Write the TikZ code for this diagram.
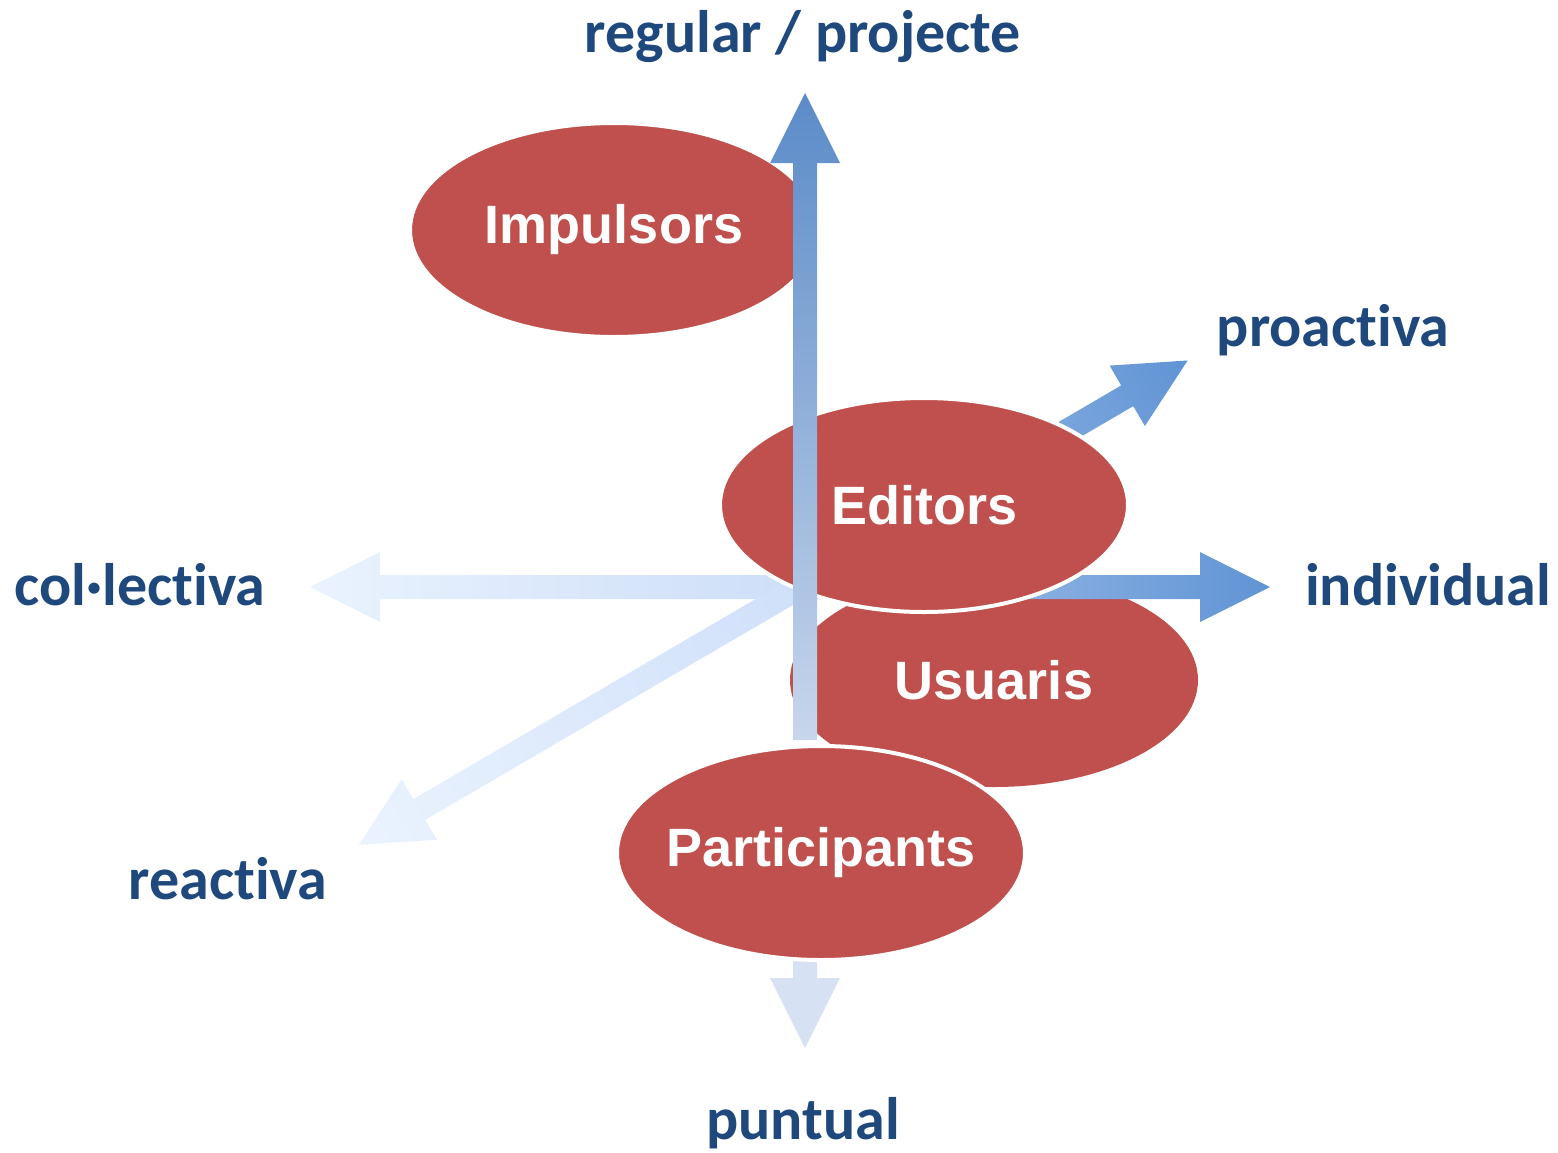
\documentclass[tikz,border=0pt]{standalone}
\usepackage{fontspec}
\setmainfont{Carlito}[RawFeature={-liga}]
\newfontfamily\rolefont{Liberation Sans}
\usetikzlibrary{shapes.geometric}

\definecolor{labelblue}{RGB}{31,73,125}
\definecolor{rolered}{RGB}{192,80,77}

\tikzset{every picture/.style={line width=0.75pt}}
\tikzset{
  role/.style={ellipse, fill=rolered, minimum width=204pt, minimum height=107pt,
    inner xsep=-40pt, inner ysep=-10pt,
    text=white, font=\rolefont\bfseries\fontsize{27}{32}\selectfont},
  rolerim/.style={role, draw=white, line width=2pt},
  axislabel/.style={text=labelblue, inner sep=0pt, font=\bfseries\fontsize{30}{36}\selectfont},
}

% fat arrow along local x, length #1
\newcommand{\axisarrow}[1]{(0,-12) -- (#1-70,-12) -- (#1-70,-35) -- (#1,0) -- (#1-70,35) -- (#1-70,12) -- (0,12) -- cycle}

\begin{document}
\begin{tikzpicture}[x=0.5pt,y=0.5pt,yscale=-1,xscale=1]
        \useasboundingbox (0,0) rectangle (1558,1152);

        \coordinate (centre) at (800,587);
        \coordinate (upfoot) at (805,740);
        \coordinate (downfoot) at (805,850);

        %Shape: Ellipse [Usuaris]
        \node [role] (usuaris) at (994,680) {Usuaris};

        %Shape: Arrows [col·lectiva, reactiva, individual, proactiva]
        \begin{scope}[transform canvas={shift={(centre)}, rotate=180}]
          \shade [left color={rgb,255:red,205;green,222;blue,248}, right color={rgb,255:red,234;green,243;blue,254}] \axisarrow{490};
        \end{scope}
        \begin{scope}[transform canvas={shift={(centre)}, rotate=210.3}]
          \shade [left color={rgb,255:red,208;green,224;blue,250}, right color={rgb,255:red,234;green,243;blue,254}] \axisarrow{511};
        \end{scope}
        \begin{scope}[transform canvas={shift={(centre)}, rotate=0}]
          \shade [left color={rgb,255:red,175;green,200;blue,238}, right color={rgb,255:red,96;green,148;blue,212}] \axisarrow{470};
        \end{scope}
        \begin{scope}[transform canvas={shift={(centre)}, rotate=30.3}]
          \shade [left color={rgb,255:red,175;green,200;blue,238}, right color={rgb,255:red,96;green,148;blue,212}] \axisarrow{449};
        \end{scope}
        %Shape: Arrow [puntual]
        \begin{scope}[transform canvas={shift={(downfoot)}, rotate=-90}]
          \fill [color={rgb,255:red,214;green,225;blue,243}] \axisarrow{198};
        \end{scope}

        %Shape: Ellipse [Editors, Impulsors]
        \node [rolerim] (editors) at (924,505) {Editors};
        \node [rolerim] (impulsors) at (614,230) {Impulsors};

        %Shape: Arrow [regular / projecte]
        \begin{scope}[transform canvas={shift={(upfoot)}, rotate=90}]
          \shade [left color={rgb,255:red,200;green,214;blue,236}, right color={rgb,255:red,91;green,139;blue,200}] \axisarrow{647};
        \end{scope}

        %Shape: Ellipse [Participants]
        \node [rolerim] (participants) at (821,853) {Participants};

        % Text Node
        \node [axislabel] (regular) at (803,37) {regular / projecte};
        % Text Node
        \node [axislabel] (proactiva) at (1333,330) {proactiva};
        % Text Node
        \node [axislabel] (individual) at (1428,585) {individual};
        % Text Node
        \node [axislabel] (collectiva) at (140,585) {col·lectiva};
        % Text Node
        \node [axislabel] (reactiva) at (228,879) {reactiva};
        % Text Node
        \node [axislabel] (puntual) at (803,1123) {puntual};

\end{tikzpicture}
\end{document}
